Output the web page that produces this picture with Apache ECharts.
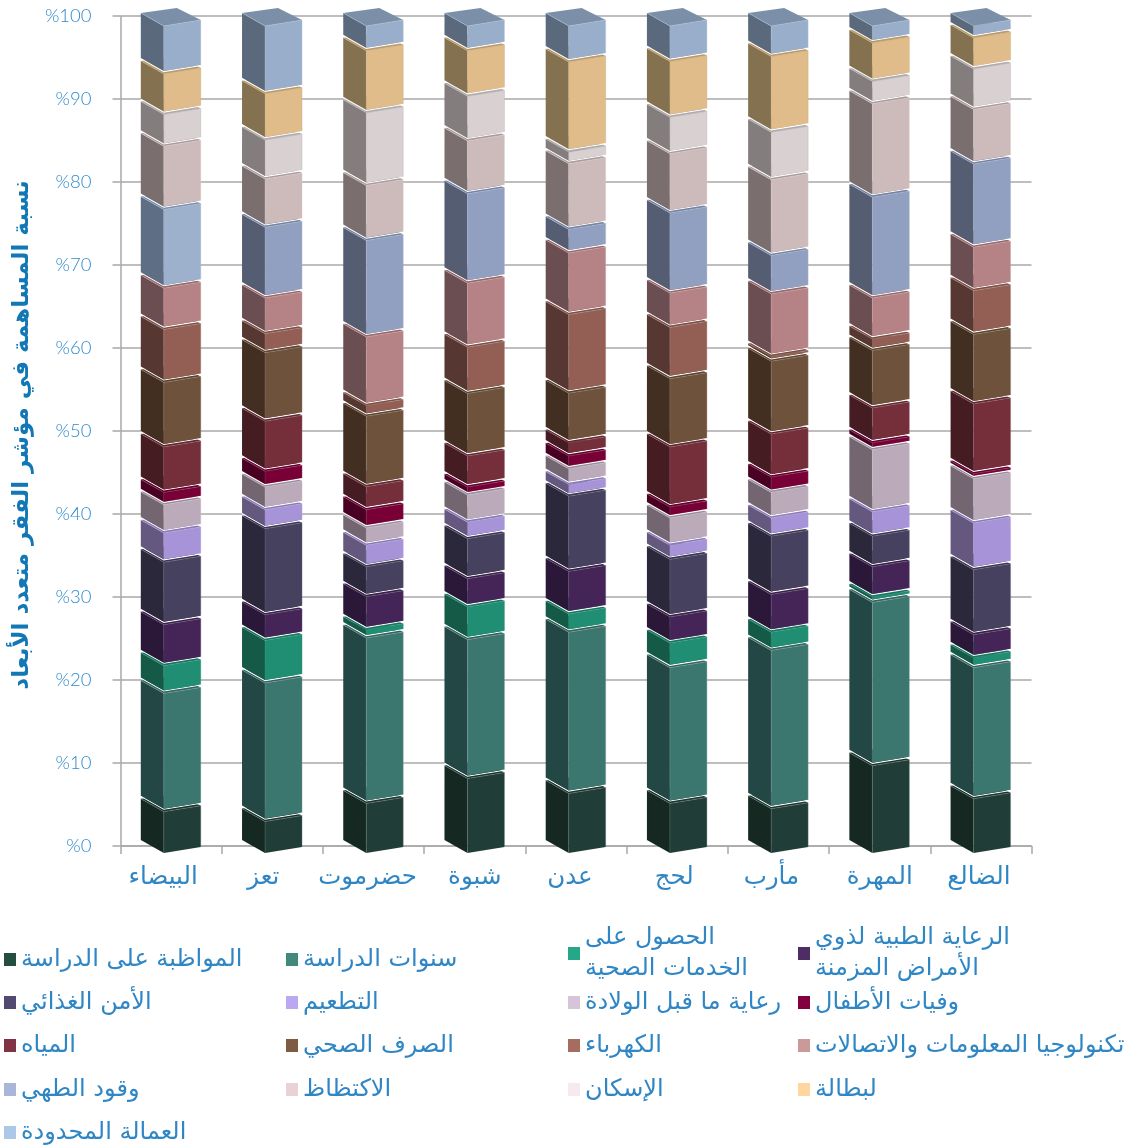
<!DOCTYPE html>
<html><head><meta charset="utf-8">
<style>html,body{margin:0;padding:0;background:#fff}#c{width:1137px;height:1147px}</style>
<script src="https://cdn.jsdelivr.net/npm/echarts@6/dist/echarts.min.js"></script>
</head><body><div id="c"></div>
<script>
const categories = ['البيضاء','تعز','حضرموت','شبوة','عدن','لحج','مأرب','المهرة','الضالع'];
const yTicks = [0,10,20,30,40,50,60,70,80,90,100];
const axisTitle = 'نسبة المساهمة في مؤشر الفقر متعدد الأبعاد';

const attendance = [5.0,3.8,6.0,9.0,7.2,6.0,5.35,10.55,6.55];
const schooling  = [14.3,16.75,20.0,16.8,19.5,16.4,19.15,19.75,15.85];
const healthAccess = [3.35,5.15,1.0,3.95,2.2,3.0,2.2,0.65,1.2];
const chronicCare = [4.95,3.1,4.0,3.4,5.15,3.15,4.55,3.65,2.8];
const foodSecurity = [7.55,10.4,3.6,4.85,9.1,6.95,7.05,3.7,7.85];
const vaccination = [3.55,2.3,2.6,2.0,1.4,1.7,2.2,2.95,5.65];
const prenatalCare = [3.4,2.75,2.1,3.3,1.9,3.3,3.1,7.5,5.35];
const childMortality = [1.5,1.9,2.2,0.95,1.55,1.35,1.85,0.85,0.6];
const water = [5.5,6.05,2.8,3.75,1.6,7.25,5.2,4.2,8.45];
const sanitation = [7.8,8.3,8.5,7.55,6.0,8.25,8.8,6.95,8.4];
const electricity = [6.4,2.3,1.3,5.6,9.5,6.2,0.6,1.4,5.3];
const ict = [5.0,4.3,8.3,7.75,7.45,4.15,7.55,4.95,5.25];
const cookingFuel = [9.5,8.55,11.65,10.8,2.85,9.7,4.65,12.2,10.05];
const overcrowding = [7.65,5.85,6.65,6.4,7.95,7.15,9.15,11.3,6.6];
const housing = [3.85,4.7,8.8,5.4,1.4,4.4,5.75,2.7,4.9];
const unemployment = [4.9,5.6,7.5,5.5,10.9,6.75,9.15,4.65,3.75];
const limitedWork = [5.8,8.2,3.0,3.0,4.35,4.3,3.7,2.05,1.45];

const seriesNames = ['المواظبة على الدراسة','سنوات الدراسة','الحصول على الخدمات الصحية','الرعاية الطبية لذوي الأمراض المزمنة','الأمن الغذائي','التطعيم','رعاية ما قبل الولادة','وفيات الأطفال','المياه','الصرف الصحي','الكهرباء','تكنولوجيا المعلومات والاتصالات','وقود الطهي','الاكتظاظ','الإسكان','لبطالة','العمالة المحدودة'];
const legendLabels = {'الحصول على الخدمات الصحية':'الحصول على\nالخدمات الصحية','الرعاية الطبية لذوي الأمراض المزمنة':'الرعاية الطبية لذوي\nالأمراض المزمنة'};
const seriesValues = [attendance,schooling,healthAccess,chronicCare,foodSecurity,vaccination,prenatalCare,childMortality,water,sanitation,electricity,ict,cookingFuel,overcrowding,housing,unemployment,limitedWork];

const legendColors = ['#254d41','#41897d','#25a888','#4e2c66','#524a70','#bba8f0','#d6c5d9','#82003f','#7f3344','#7e5c44','#a66c60','#cc9999','#a9b6d9','#e8d2d5','#f6eaee','#fed69e','#adc7e8'];
const frontColors = ['#203e37','#3b776f','#1f8e72','#452558','#474160','#a693d8','#bbabba','#780036','#742f3a','#6e523b','#935f54','#b58285','#919fc0','#cdbabb','#d9d0d1','#dfbc8a','#98aeca'];
const sideColors  = ['#152822','#224744','#155a46','#2b1738','#2b283c','#64587f','#736670','#4a0022','#461c23','#432f22','#573731','#6b4e51','#555d72','#7a6e6e','#837d7d','#847150','#5a6a7c'];
const topColors   = ['#1a332d','#33625c','#1a7560','#382047','#3b3650','#8a7ab3','#9b8d9a','#62002c','#602730','#5a4331','#7a4f46','#95696c','#76829e','#a99a9b','#b2abac','#b89a6e','#7b90a8'];
const edgeColors  = ['#6f8a83','#7fa5a0','#3f9f88','#6f5a82','#75708a','#b9a9e0','#cfc2cf','#9c4a6c','#9a6a72','#968270','#b58f86','#cfaaad','#b0bbd4','#dfd2d3','#b5aeae','#c9a878','#b4c6dc'];
const lighterFuelColumn = {cat:0, front:'#9db1cc', side:'#5e6e85', top:'#7d90aa'};

const textBlue = '#2f86c4';
const arabicFont = '"DejaVu Sans", sans-serif';
const legendCols = [4,286,568,798];
const legendRows = [958,1001,1044,1088,1131];
const labelLeftShift = [8,9,6,0,6,3,7,0,2];

const chart = echarts.init(document.getElementById('c'), null, {renderer:'canvas'});

const cum = categories.map(()=>0);
const ranges = seriesValues.map(vals=>vals.map((v,i)=>{const lo=cum[i];cum[i]+=v;return [i,lo,cum[i]];}));

const base = 846, k = 0.9964, gap = 3;
const L=[-30,-6], F=[-7,7], R=[30,1], B=[6,-11];

function render(sIdx){
  return function(params, api){
    const cat = api.value(0), lo = api.value(1), hi = api.value(2);
    const cx = api.coord([cat,0])[0] - 0.3;
    const y = v => base + (api.coord([cat,v])[1]-base)*k;
    const yb = y(lo) - (lo>0?gap:0);
    let yt = y(hi);
    const yBot = Math.max(yb, yt);
    const p = (c,yy)=>[cx+c[0], yy+c[1]];
    let front = frontColors[sIdx], side = sideColors[sIdx], top = topColors[sIdx];
    if (sIdx===12 && cat===lighterFuelColumn.cat){front=lighterFuelColumn.front;side=lighterFuelColumn.side;top=lighterFuelColumn.top;}
    const edge = edgeColors[sIdx];
    const children = [];
    if (lo>0) children.push({type:'polyline',shape:{points:[p(L,yBot+0.6),p(F,yBot+0.6),p(R,yBot+0.6)]},style:{stroke:'#fff',lineWidth:1.1,fill:null}});
    children.push({type:'polygon',shape:{points:[p(L,yBot),p(F,yBot),p(F,yt),p(L,yt)]},style:{fill:side}});
    children.push({type:'polygon',shape:{points:[p(F,yBot),p(R,yBot),p(R,yt),p(F,yt)]},style:{fill:front}});
    children.push({type:'polygon',shape:{points:[p(L,yt),p(F,yt),p(R,yt),p(B,yt)]},style:{fill:top}});
    children.push({type:'polyline',shape:{points:[p(L,yt),p(F,yt),p(R,yt)]},style:{stroke:edge,lineWidth:0.8,fill:null,opacity:0.6}});
    children.push({type:'line',shape:{x1:cx+F[0],y1:yBot+F[1],x2:cx+F[0],y2:yt+F[1]},style:{stroke:edge,lineWidth:0.8,opacity:0.4}});
    children.push({type:'line',shape:{x1:cx+R[0],y1:yBot+R[1],x2:cx+R[0],y2:yt+R[1]},style:{stroke:edge,lineWidth:0.8,opacity:0.45}});
    return {type:'group',children};
  };
}

const series = seriesNames.map((name,s)=>({
  name, type:'custom', coordinateSystem:'cartesian2d', clip:false,
  itemStyle:{color:legendColors[s]},
  encode:{x:0,y:[1,2]},
  renderItem:render(s), data:ranges[s], z:2, animation:false
}));

const legends = seriesNames.map((name,s)=>{
  const col = s%4, row = Math.floor(s/4);
  const two = !!legendLabels[name];
  return {
    data:[{name,icon:'rect'}], left:legendCols[col], top:legendRows[row]-(two?41:14),
    itemWidth:12, itemHeight:13, itemGap:6, padding:0, selectedMode:false,
    formatter:n=>legendLabels[n]||n,
    textStyle:{color:textBlue,fontFamily:arabicFont,fontSize:24,lineHeight:31,padding:two?[0,0,11,0]:0}
  };
});

const labelRich = {};
labelLeftShift.forEach((d,i)=>{labelRich['c'+i]={color:textBlue,fontSize:24.5,fontFamily:arabicFont,padding:[0,d*2,0,0]};});

chart.setOption({
  animation:false,
  backgroundColor:'#fff',
  textStyle:{fontFamily:arabicFont},
  grid:{left:120.5,width:911,top:16,height:830,containLabel:false},
  xAxis:{type:'category',data:categories,boundaryGap:true,
    axisLine:{show:true,lineStyle:{color:'#a8a8a8',width:1.5}},
    axisTick:{show:true,alignWithLabel:false,length:8,lineStyle:{color:'#a8a8a8',width:1.5}},
    axisLabel:{color:textBlue,fontSize:24.5,margin:19,fontFamily:arabicFont,interval:0,
      formatter:(v,i)=>'{c'+i+'|'+v+'}',rich:labelRich},
    splitLine:{show:false}},
  yAxis:{type:'value',min:yTicks[0],max:yTicks[yTicks.length-1],interval:10,
    name:axisTitle,nameLocation:'middle',nameRotate:90,nameGap:86,
    nameTextStyle:{color:'#1277b5',fontSize:23,fontWeight:'bold',fontFamily:arabicFont,padding:[0,8,0,0]},
    axisLine:{show:true,lineStyle:{color:'#a8a8a8',width:1.5}},
    axisTick:{show:true,length:8,lineStyle:{color:'#a8a8a8',width:1.5}},
    axisLabel:{color:'#2f8acb',fontSize:18.5,margin:29,fontFamily:'Lato, sans-serif',fontWeight:300,formatter:'%{value}'},
    splitLine:{show:true,lineStyle:{color:'#a8a8a8',width:1.5}}},
  legend:legends,
  series
});
</script></body></html>
